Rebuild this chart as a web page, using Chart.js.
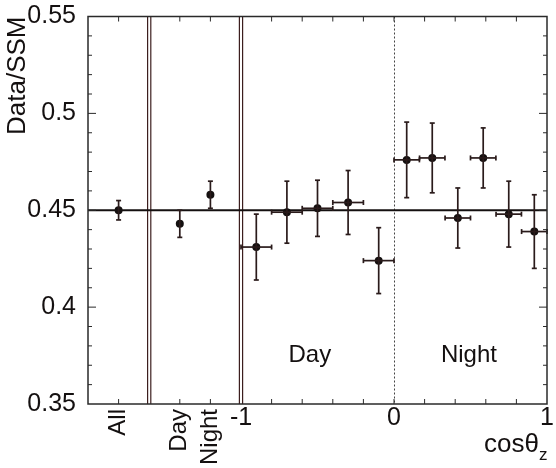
<!DOCTYPE html>
<html>
<head>
<meta charset="utf-8">
<script src="https://cdn.jsdelivr.net/npm/chart.js@4/dist/chart.umd.min.js"></script>
<style>
  html, body { margin: 0; padding: 0; background: #fff; }
  #wrap { width: 556px; height: 468px; }
</style>
</head>
<body>
<div id="wrap"><canvas id="ratioChart"></canvas></div>
<script>
// integrated samples, placed in the left panel
const sumLabels = ['All', 'Day', 'Night'];
const sumX = [-1.8, -1.4, -1.2];
const sumVal = [0.450, 0.443, 0.458];
const sumErr = [0.005, 0.007, 0.007];

// day bins (cos theta_z < 0)
const dayCos = [-0.9, -0.7, -0.5, -0.3, -0.1];
const dayHalf = [0.1, 0.1, 0.1, 0.1, 0.1];
const dayVal = [0.431, 0.449, 0.451, 0.454, 0.424];
const dayErr = [0.017, 0.016, 0.0145, 0.0165, 0.017];

// night bins (cos theta_z > 0)
const nightCos = [0.083, 0.25, 0.417, 0.583, 0.75, 0.917];
const nightHalf = [0.083, 0.083, 0.083, 0.083, 0.083, 0.083];
const nightVal = [0.476, 0.477, 0.446, 0.477, 0.448, 0.439];
const nightErr = [0.0195, 0.018, 0.0155, 0.0155, 0.017, 0.019];

const meanRatio = 0.45;
const panelEdges = [-1.6, -1.0];

const yTicks = [0.35, 0.4, 0.45, 0.5, 0.55];
const yTickLabels = ['0.35', '0.4', '0.45', '0.5', '0.55'];
const yMinorStep = 0.01;
const cosTicks = [-1, 0, 1];
const cosTickLabels = ['-1', '0', '1'];
const xMinorTicks = [-1.8, -1.4, -1.2, -0.8, -0.6, -0.4, -0.2, 0, 0.2, 0.4, 0.6, 0.8];

const regionNames = ['Day', 'Night'];
const regionX = [-0.55, 0.49];
const regionY = [0.375, 0.375];

const FONT = "'Liberation Sans', Arial, Helvetica, sans-serif";
const INK = '#141010';

const toPoints = (xs, ys) => xs.map((v, i) => ({ x: v, y: ys[i] }));

// error bars with small end caps
const errorBars = {
  id: 'errorBars',
  afterDatasetsDraw(chart) {
    const { ctx, scales: { x, y } } = chart;
    ctx.save();
    ctx.strokeStyle = '#2a1b1b';
    ctx.lineWidth = 1.7;
    const seg = (x1, y1, x2, y2) => {
      ctx.beginPath(); ctx.moveTo(x1, y1); ctx.lineTo(x2, y2); ctx.stroke();
    };
    chart.data.datasets.forEach(ds => {
      if (!ds.yErr) return;
      ds.data.forEach((p, i) => {
        const px = x.getPixelForValue(p.x);
        const py = y.getPixelForValue(p.y);
        const top = y.getPixelForValue(p.y + ds.yErr[i]);
        const bot = y.getPixelForValue(p.y - ds.yErr[i]);
        seg(px, top, px, bot);
        seg(px - 2.5, top, px + 2.5, top);
        seg(px - 2.5, bot, px + 2.5, bot);
        if (ds.xHalf) {
          const l = x.getPixelForValue(p.x - ds.xHalf[i]);
          const r = x.getPixelForValue(p.x + ds.xHalf[i]);
          seg(l, py, r, py);
          seg(l, py - 2.5, l, py + 2.5);
          seg(r, py - 2.5, r, py + 2.5);
        }
      });
    });
    ctx.restore();
  }
};

// panel separators and the cos=0 divider
const dividers = {
  id: 'dividers',
  beforeDatasetsDraw(chart) {
    const { ctx, chartArea: a, scales: { x } } = chart;
    ctx.save();
    ctx.strokeStyle = '#3c1e1e';
    ctx.lineWidth = 1.2;
    panelEdges.forEach(v => {
      const px = x.getPixelForValue(v);
      [-1.6, 1.6].forEach(d => {
        ctx.beginPath(); ctx.moveTo(px + d, a.top); ctx.lineTo(px + d, a.bottom); ctx.stroke();
      });
    });
    ctx.strokeStyle = '#444';
    ctx.lineWidth = 1;
    ctx.setLineDash([2, 2]);
    const z = Math.round(x.getPixelForValue(0)) + 0.5;
    ctx.beginPath(); ctx.moveTo(z, a.top); ctx.lineTo(z, a.bottom); ctx.stroke();
    ctx.restore();
  }
};

// frame, inward ticks and the text labels
const frame = {
  id: 'frame',
  afterDraw(chart) {
    const { ctx, chartArea: a, scales: { x, y } } = chart;
    ctx.save();
    ctx.strokeStyle = '#2a2a2a';
    ctx.lineWidth = 1.5;
    ctx.strokeRect(a.left, a.top, a.right - a.left, a.bottom - a.top);

    ctx.lineWidth = 1;
    const n = Math.round((y.max - y.min) / yMinorStep);
    for (let i = 1; i < n; i++) {
      const v = y.min + i * yMinorStep;
      const py = y.getPixelForValue(v);
      const major = yTicks.some(t => Math.abs(t - v) < 1e-6);
      const len = major ? 8 : 4;
      ctx.beginPath();
      ctx.moveTo(a.left, py); ctx.lineTo(a.left + len, py);
      ctx.moveTo(a.right, py); ctx.lineTo(a.right - len, py);
      ctx.stroke();
    }
    xMinorTicks.forEach(v => {
      const px = x.getPixelForValue(v);
      ctx.beginPath();
      ctx.moveTo(px, a.bottom); ctx.lineTo(px, a.bottom - 5);
      ctx.moveTo(px, a.top); ctx.lineTo(px, a.top + 5);
      ctx.stroke();
    });

    ctx.fillStyle = INK;
    ctx.font = '25px ' + FONT;
    ctx.textAlign = 'center';
    ctx.textBaseline = 'top';
    cosTicks.forEach((v, i) => {
      ctx.fillText(cosTickLabels[i], x.getPixelForValue(v), a.bottom + 2);
    });

    // rotated labels of the integrated samples
    ctx.font = '24px ' + FONT;
    ctx.textAlign = 'right';
    ctx.textBaseline = 'middle';
    sumLabels.forEach((s, i) => {
      ctx.save();
      ctx.translate(x.getPixelForValue(sumX[i]), a.bottom + 5);
      ctx.rotate(-Math.PI / 2);
      ctx.fillText(s, 0, 0);
      ctx.restore();
    });

    ctx.font = '24px ' + FONT;
    ctx.textAlign = 'center';
    ctx.textBaseline = 'middle';
    regionNames.forEach((s, i) => {
      ctx.fillText(s, x.getPixelForValue(regionX[i]), y.getPixelForValue(regionY[i]));
    });

    // axis title cos(theta)_z
    ctx.font = '26px ' + FONT;
    ctx.textAlign = 'right';
    ctx.textBaseline = 'alphabetic';
    ctx.fillText('cos\u03b8', a.right - 8, 452);
    ctx.font = '17px ' + FONT;
    ctx.textAlign = 'left';
    ctx.fillText('z', a.right - 8, 460);
    ctx.restore();
  }
};

const pointStyle = { pointRadius: 4, pointBackgroundColor: INK, pointBorderWidth: 0, showLine: false };

new Chart(document.getElementById('ratioChart'), {
  type: 'scatter',
  data: {
    datasets: [
      {
        type: 'line',
        data: [{ x: -2, y: meanRatio }, { x: 1, y: meanRatio }],
        borderColor: INK,
        borderWidth: 1.8,
        pointRadius: 0
      },
      { data: toPoints(sumX, sumVal), yErr: sumErr, ...pointStyle },
      { data: toPoints(dayCos, dayVal), yErr: dayErr, xHalf: dayHalf, ...pointStyle },
      { data: toPoints(nightCos, nightVal), yErr: nightErr, xHalf: nightHalf, ...pointStyle }
    ]
  },
  options: {
    responsive: true,
    maintainAspectRatio: false,
    animation: false,
    layout: { padding: { top: 14, right: 9, bottom: 64, left: 0 } },
    plugins: { legend: { display: false }, tooltip: { enabled: false } },
    scales: {
      x: {
        type: 'linear',
        min: -2,
        max: 1,
        display: false
      },
      y: {
        min: 0.35,
        max: 0.55,
        afterFit(scale) { scale.width = 88; },
        afterBuildTicks(scale) { scale.ticks = yTicks.map(v => ({ value: v })); },
        grid: { display: false },
        border: { display: false },
        ticks: {
          autoSkip: false,
          padding: 4,
          color: INK,
          font: { family: FONT, size: 25, lineHeight: 1 },
          callback: (v) => {
            const i = yTicks.findIndex(t => Math.abs(t - v) < 1e-6);
            return i >= 0 ? yTickLabels[i] : '';
          }
        },
        title: {
          display: true,
          text: 'Data/SSM',
          align: 'end',
          color: INK,
          padding: { top: 2, bottom: 0 },
          font: { family: FONT, size: 26 }
        }
      }
    }
  },
  plugins: [dividers, errorBars, frame]
});
</script>
</body>
</html>
